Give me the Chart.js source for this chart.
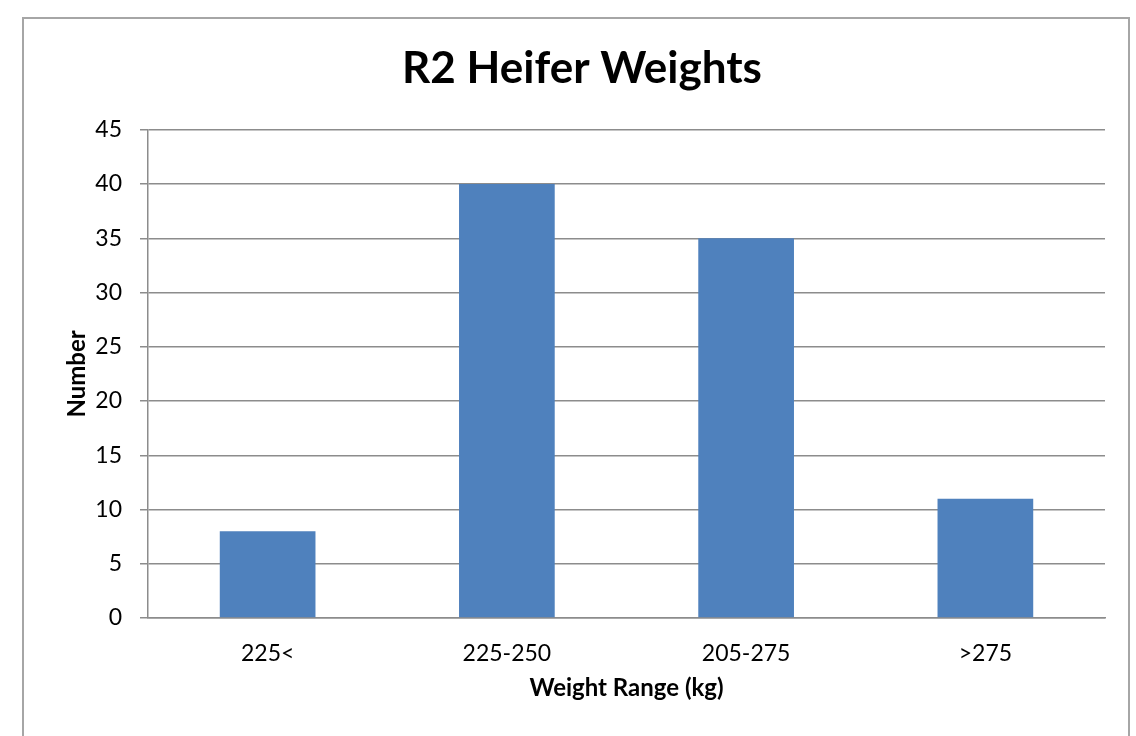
<!DOCTYPE html>
<html>
<head>
<meta charset="utf-8">
<script src="https://cdn.jsdelivr.net/npm/chart.js@4"></script>
<style>
    html, body { margin: 0; padding: 0; background: #fff; }
    #frame {
        position: absolute; left: 22px; top: 17px;
        width: 1108px; height: 800px;
        border: 2px solid #a6a6a6; box-sizing: border-box;
    }
    #wrap { position: absolute; left: 0; top: 0; width: 1136px; height: 736px; }
</style>
</head>
<body>
<div id="frame"></div>
<div id="wrap"><canvas id="chart"></canvas></div>
<script>
const CATEGORIES = ['225<', '225-250', '205-275', '>275'];
const COUNTS = [8, 40, 35, 11];
const Y_MIN = 0;
const Y_MAX = 45;
const Y_STEP = 5;

const FONT = 'Lato, "Open Sans", sans-serif';
const GRID = '#8c8c8c';

const ctx = document.getElementById('chart').getContext('2d');
new Chart(ctx, {
    type: 'bar',
    data: {
        labels: CATEGORIES,
        datasets: [{
            label: 'Number',
            data: COUNTS,
            backgroundColor: '#4f81bd',
            barPercentage: 0.4,
            categoryPercentage: 1.0
        }]
    },
    options: {
        responsive: true,
        maintainAspectRatio: false,
        animation: false,
        layout: { padding: { left: 59, right: 31, top: 20, bottom: 29 } },
        plugins: {
            legend: { display: false },
            tooltip: { enabled: false },
            title: {
                display: true,
                text: 'R2 Heifer Weights',
                color: '#000',
                font: { family: FONT, size: 44, weight: 'bold' },
                padding: { top: 22, bottom: 35 }
            }
        },
        scales: {
            x: {
                grid: { display: false, drawTicks: false },
                border: { display: true, color: GRID, width: 1.5 },
                ticks: { color: '#000', font: { family: FONT, size: 23 }, padding: 22 },
                title: {
                    display: true, text: 'Weight Range (kg)', color: '#000',
                    font: { family: FONT, size: 24, weight: 'bold' }
                },
                afterFit: scale => { scale.height = 89; }
            },
            y: {
                min: Y_MIN,
                max: Y_MAX,
                ticks: { stepSize: Y_STEP, color: '#000', font: { family: FONT, size: 23 }, padding: 18 },
                grid: { color: GRID, lineWidth: 1.5, tickLength: 8 },
                border: { display: true, color: GRID, width: 1.5 },
                title: {
                    display: true, text: 'Number', color: '#000',
                    font: { family: FONT, size: 24, weight: 'bold' }
                },
                afterFit: scale => { scale.width = 89; }
            }
        }
    }
});
</script>
</body>
</html>
